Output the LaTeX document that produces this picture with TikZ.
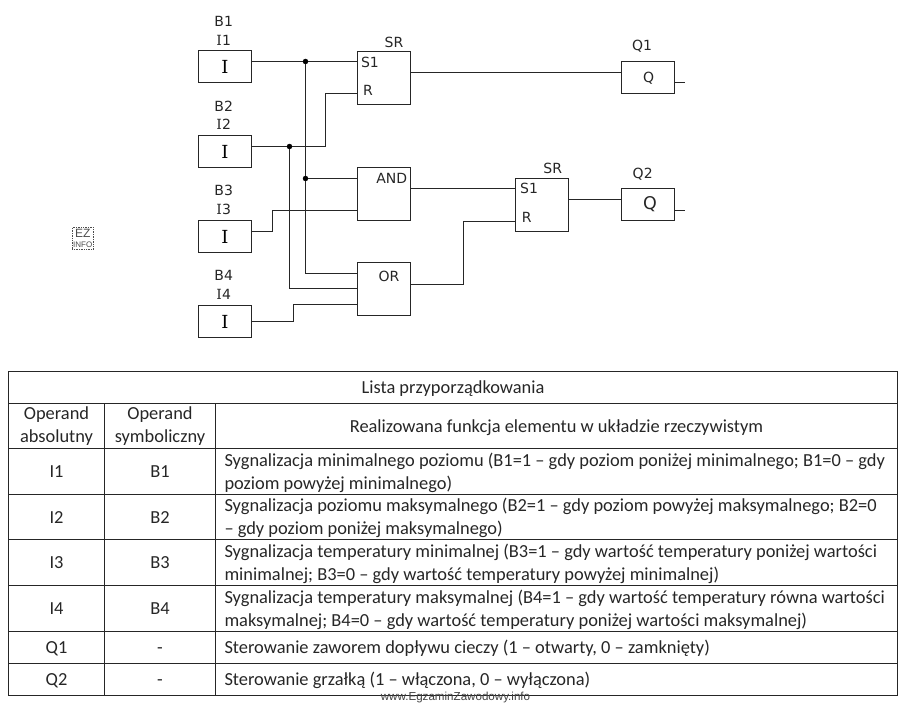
\documentclass[tikz,border=0pt]{standalone}
\usepackage{fontspec}
\setmainfont{Carlito}
\newfontfamily\blockfont{DejaVu Sans}
\newfontfamily\serifbar{DejaVu Serif}
\newfontfamily\wwwfont{Liberation Sans}
\usetikzlibrary{arrows.meta, positioning}
\newcommand{\barI}{{\serifbar I}}

\begin{document}
\begin{tikzpicture}[
            x=1pt, y=-1pt,
            inputbox/.style={ rectangle, draw=black!85, line width=1.4pt, outer sep=0pt, inner sep=0pt, minimum width=53pt, minimum height=32pt, font=\fontsize{18}{20}\selectfont },
            block/.style={ rectangle, draw=black!85, line width=1.4pt, outer sep=0pt, minimum width=53pt, minimum height=53pt },
            tag/.style={ inner sep=0pt, font=\blockfont\fontsize{14}{16}\selectfont, text=black!85 },
            wire/.style={ line width=1.4pt, draw=black!85 },
            joint/.style={ circle, fill=black, inner sep=0pt, minimum size=5.5pt },
            cell/.style={ rectangle, draw=black!85, line width=1.3pt, outer sep=0pt, inner xsep=0pt, inner ysep=0pt, align=center, font=\fontsize{18.4}{22.7}\selectfont, text=black!85, execute at begin node={\rule[-3pt]{0pt}{18.5pt}} },
            colabs/.style={ cell, minimum width=96pt },
            colsym/.style={ cell, minimum width=111pt },
            colfun/.style={ cell, text width=664pt, align=flush left, inner xsep=9pt },
            tall/.style={ minimum height=46pt },
            low/.style={ minimum height=32pt }
        ]
            \useasboundingbox (0,0) rectangle (912,706);

            % Input boxes
            \node (i1) [inputbox] at (225,66.5) {\barI};
            \node (i2) [inputbox, below=53pt of i1] {\barI};
            \node (i3) [inputbox, below=53pt of i2] {\barI};
            \node (i4) [inputbox, below=53pt of i3] {\barI};

            % Logic blocks
            \node (srone) [block] at (384,78) {};
            \node (and) [block, below=63pt of srone] {};
            \node (or) [block, below=42pt of and] {};
            \node (srtwo) [block] at (542,205) {};

            % Output boxes
            \node (qone) [inputbox] at (648,77.5) {};
            \node (qtwo) [inputbox] at (648,204.5) {};

            % Labels
            \node (bonetag) [tag] at (223.7,21) {B1};
            \node (ionetag) [tag] at (223.7,40) {\barI 1};
            \node (btwotag) [tag] at (223.7,106) {B2};
            \node (itwotag) [tag] at (223.7,124.5) {\barI 2};
            \node (bthreetag) [tag] at (223.7,190.7) {B3};
            \node (ithreetag) [tag] at (223.7,209) {\barI 3};
            \node (bfourtag) [tag] at (223.7,275) {B4};
            \node (ifourtag) [tag] at (223.7,294) {\barI 4};
            \node (sronetag) [tag] at (394,42.5) {SR};
            \node (sonetag) [tag] at (370,62) {S1};
            \node (ronetag) [tag] at (368,90.7) {R};
            \node (andtag) [tag] at (391.7,178) {AND};
            \node (ortag) [tag] at (389,276) {OR};
            \node (srtwotag) [tag] at (552.7,168) {SR};
            \node (stwotag) [tag] at (529,188) {S1};
            \node (rtwotag) [tag] at (526.7,217.7) {R};
            \node (qonetag) [tag] at (642,46.7) {Q1};
            \node (qoneletter) [tag] at (648.7,78.3) {Q};
            \node (qtwotag) [tag] at (642.7,174) {Q2};
            \node (qtwoletter) [tag, font=\blockfont\fontsize{17.5}{19}\selectfont] at (650,204) {Q};

            % Junctions
            \node (jone) [joint] at (305.5,61.5) {};
            \node (jtwo) [joint] at (289.5,146.5) {};
            \node (jand) [joint] at (305.5,178.5) {};

            % Free bends and ends
            \coordinate (bendr) at (325.5,93.5);
            \coordinate (bendthree) at (272.5,210.5);
            \coordinate (bendfour) at (293.5,304.5);
            \coordinate (bendor) at (463.5,221.5);
            \coordinate (qoneend) at (685,82.5);
            \coordinate (qtwoend) at (685,210.5);

            % Wires
            \draw[wire] ([yshift=5pt]i1.east) -- (jone) -- (jone -| srone.west);
            \draw[wire] (jone) -- (jand) -- (305.5,273.5) -- (or.west |- 0,273.5);
            \draw[wire] (jand) -- (and.west |- jand);
            \draw[wire] (i2.east |- jtwo) -- (jtwo) -- (bendr |- jtwo) -- (bendr) -- (srone.west |- bendr);
            \draw[wire] (jtwo) -- (289.5,288.5) -- (or.west |- 0,288.5);
            \draw[wire] (i3.east |- 0,231.5) -- (bendthree |- 0,231.5) -- (bendthree) -- (and.west |- bendthree);
            \draw[wire] (i4.east |- 0,321.5) -- (bendfour |- 0,321.5) -- (bendfour) -- (or.west |- bendfour);
            \draw[wire] (srone.east |- 0,72.5) -- (qone.west |- 0,72.5);
            \draw[wire] (and.east |- 0,188.5) -- (srtwo.west |- 0,188.5);
            \draw[wire] (or.east |- 0,284.5) -- (bendor |- 0,284.5) -- (bendor) -- (srtwo.west |- bendor);
            \draw[wire] (srtwo.east |- 0,199.5) -- (qtwo.west |- 0,199.5);
            \draw[wire] (qone.east |- qoneend) -- (qoneend);
            \draw[wire] (qtwo.east |- qtwoend) -- (qtwoend);

            % Stamp
            \node (stamp) [draw=black!70, densely dotted, line width=0.7pt, minimum width=21pt, minimum height=22pt, inner sep=0pt, align=center, text=black!70, font=\wwwfont\fontsize{8}{9.5}\selectfont] at (82.7,238.3) {{\fontsize{12}{9.5}\selectfont EZ}\\INFO};

            % Table
            \node (title) [cell, anchor=north west, minimum width=889pt, minimum height=32pt] at (8.5,371.5) {Lista przyporządkowania};

            \node (headabs) [colabs, minimum height=45pt, anchor=north west] at (title.south west) {Operand\\absolutny};
            \node (headsym) [colsym, minimum height=45pt, right=0pt of headabs] {Operand\\symboliczny};
            \node (headfun) [cell, minimum width=682pt, minimum height=45pt, right=0pt of headsym] {Realizowana funkcja elementu w układzie rzeczywistym};

            \node (absone) [colabs, tall, below=0pt of headabs] {I1};
            \node (symone) [colsym, tall, right=0pt of absone] {B1};
            \node (funone) [colfun, tall, right=0pt of symone] {Sygnalizacja minimalnego poziomu (B1=1 – gdy poziom poniżej minimalnego; B1=0 – gdy\\poziom powyżej minimalnego)};

            \node (abstwo) [colabs, tall, minimum height=45pt, below=0pt of absone] {I2};
            \node (symtwo) [colsym, tall, minimum height=45pt, right=0pt of abstwo] {B2};
            \node (funtwo) [colfun, tall, minimum height=45pt, right=0pt of symtwo] {Sygnalizacja poziomu maksymalnego (B2=1 – gdy poziom powyżej maksymalnego; B2=0\\– gdy poziom poniżej maksymalnego)};

            \node (absthree) [colabs, tall, below=0pt of abstwo] {I3};
            \node (symthree) [colsym, tall, right=0pt of absthree] {B3};
            \node (funthree) [colfun, tall, right=0pt of symthree] {Sygnalizacja temperatury minimalnej (B3=1 – gdy wartość temperatury poniżej wartości\\minimalnej; B3=0 – gdy wartość temperatury powyżej minimalnej)};

            \node (absfour) [colabs, tall, below=0pt of absthree] {I4};
            \node (symfour) [colsym, tall, right=0pt of absfour] {B4};
            \node (funfour) [colfun, tall, right=0pt of symfour] {Sygnalizacja temperatury maksymalnej (B4=1 – gdy wartość temperatury równa wartości\\maksymalnej; B4=0 – gdy wartość temperatury poniżej wartości maksymalnej)};

            \node (absqone) [colabs, low, below=0pt of absfour] {Q1};
            \node (symqone) [colsym, low, right=0pt of absqone] {-};
            \node (funqone) [colfun, low, right=0pt of symqone] {Sterowanie zaworem dopływu cieczy (1 – otwarty, 0 – zamknięty)};

            \node (absqtwo) [colabs, low, below=0pt of absqone] {Q2};
            \node (symqtwo) [colsym, low, right=0pt of absqtwo] {-};
            \node (funqtwo) [colfun, low, right=0pt of symqtwo] {Sterowanie grzałką (1 – włączona, 0 – wyłączona)};

            % Site address
            \node (site) [inner sep=0pt, text=black!75, font=\wwwfont\fontsize{11.6}{12}\selectfont] at (455.5,697.5) {www.EgzaminZawodowy.info};

        \end{tikzpicture}
\end{document}
